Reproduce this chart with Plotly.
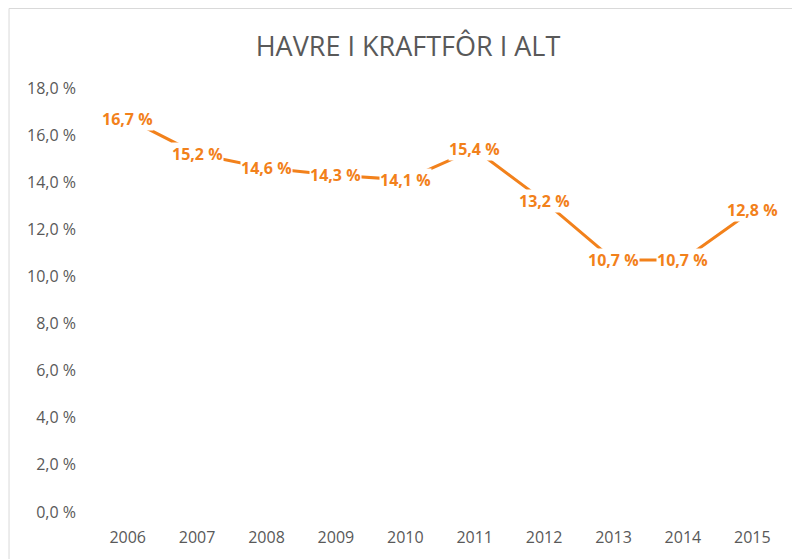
import plotly.graph_objects as go

years = ["2006", "2007", "2008", "2009", "2010", "2011", "2012", "2013", "2014", "2015"]
values = [16.7, 15.2, 14.6, 14.3, 14.1, 15.4, 13.2, 10.7, 10.7, 12.8]
y_ticks = [0, 2, 4, 6, 8, 10, 12, 14, 16, 18]
y_ticktext = [("%.1f %%" % v).replace(".", ",") for v in y_ticks]
labels = [("%.1f %%" % v).replace(".", ",") for v in values]

ORANGE = "#F2811B"
FONT = "Open Sans"

fig = go.Figure()
fig.add_trace(go.Scatter(
    x=list(range(len(years))), y=values, mode="lines",
    line=dict(color=ORANGE, width=3),
    hoverinfo="skip", showlegend=False,
))

for i, (y, t) in enumerate(zip(values, labels)):
    fig.add_annotation(
        x=i, y=y, xref="x", yref="y", text="<b>%s</b>" % t, showarrow=False,
        font=dict(family=FONT, size=16, color=ORANGE),
        bgcolor="white", borderpad=0, xanchor="center", yanchor="middle",
    )

fig.add_shape(type="rect", xref="paper", yref="paper",
              x0=-0.121, x1=1.05, y0=-0.2, y1=1.1875,
              line=dict(color="#D9D9D9", width=1), fillcolor="rgba(0,0,0,0)",
              layer="below")

fig.update_layout(
    width=800, height=559,
    paper_bgcolor="white", plot_bgcolor="white",
    margin=dict(l=85, r=21, t=80, b=55),
    title=dict(text="HAVRE I KRAFTFÔR I ALT", x=0.5, xref="container", xanchor="center",
               y=1 - 39 / 559, yanchor="middle",
               font=dict(family=FONT, size=27, color="#595959")),
    xaxis=dict(type="linear", range=[-0.5, 9.5], showgrid=False, zeroline=False,
               showline=False, ticks="", tickvals=list(range(len(years))), ticktext=years,
               ticklabelstandoff=14,
               tickfont=dict(family=FONT, size=16, color="#595959")),
    yaxis=dict(range=[0, 18], tickvals=y_ticks, ticktext=y_ticktext, showgrid=False,
               zeroline=False, showline=False, ticks="", ticklabelstandoff=16,
               tickfont=dict(family=FONT, size=16, color="#595959")),
)

fig.write_html("out.html")
